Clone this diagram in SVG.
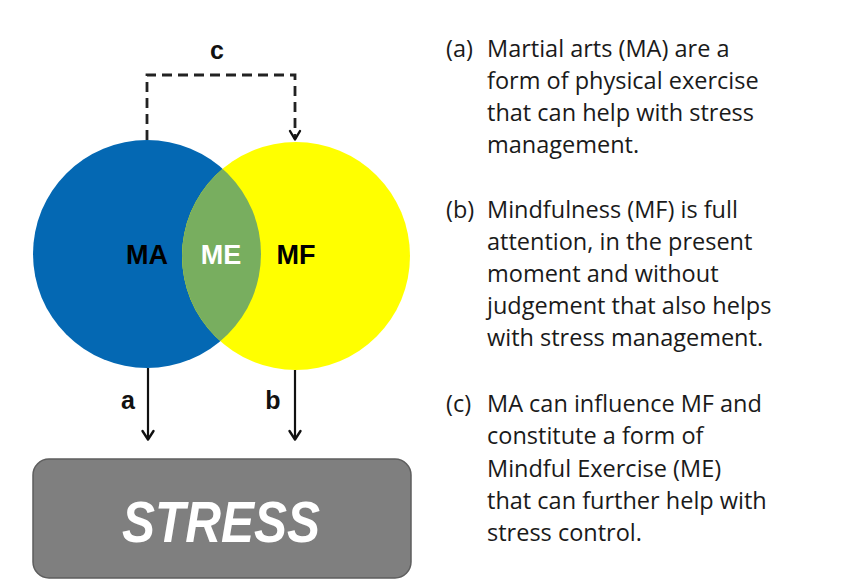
<svg xmlns="http://www.w3.org/2000/svg" width="844" height="585" viewBox="0 0 844 585">
<style>
.lbl{font-family:"Liberation Sans",Arial,sans-serif;font-weight:bold;font-size:27px;text-anchor:middle}
.small{font-family:"Liberation Sans",Arial,sans-serif;font-weight:bold;font-size:25px;text-anchor:middle;fill:#111}
.body{font-family:"Open Sans","Liberation Sans",sans-serif;font-size:23.5px;fill:#1a1a1a}
.solid{stroke:#111;stroke-width:2.2;fill:none}
.dash{stroke:#222;stroke-width:2.8;fill:none;stroke-dasharray:10 6}
.head{stroke:#111;stroke-width:2.4;fill:none;stroke-linecap:round;stroke-linejoin:round}
</style>
<defs>
<clipPath id="clipMA"><circle cx="147" cy="254" r="114"/></clipPath>
</defs>
<rect width="844" height="585" fill="#fff"/>
<g id="MA"><circle cx="147" cy="254" r="114" fill="#0468B3"/></g>
<g id="MF"><circle cx="296" cy="256" r="114" fill="#FFFF00"/></g>
<g id="ME"><circle cx="296" cy="256" r="114" fill="#78AE5F" clip-path="url(#clipMA)"/></g>
<g id="labels-circles">
<text class="lbl" x="147" y="264" fill="#000">MA</text>
<text class="lbl" x="221" y="264" fill="#fff">ME</text>
<text class="lbl" x="296" y="264" fill="#000">MF</text>
</g>
<g id="STRESS">
<rect x="33" y="459" width="378" height="119" rx="16" ry="16" fill="#7F7F7F" stroke="#5E5E5E" stroke-width="1.5"/>
<text x="221" y="542" font-family="'Liberation Sans',Arial,sans-serif" font-weight="bold" font-style="italic" font-size="57" fill="#fff" text-anchor="middle" textLength="198" lengthAdjust="spacingAndGlyphs">STRESS</text>
</g>
<g id="connectors">
<path class="dash" d="M147,140 V75 H295 V139"/>
<path class="head" d="M290,131 L295,139.5 L300,131"/>
<line class="solid" x1="148" y1="368" x2="148" y2="439"/>
<path class="head" d="M142.5,431 L148,439.5 L153.5,431"/>
<line class="solid" x1="295" y1="370" x2="295" y2="439"/>
<path class="head" d="M289.5,431 L295,439.5 L300.5,431"/>
<text class="small" x="217" y="59">c</text>
<text class="small" x="128" y="409">a</text>
<text class="small" x="273" y="409">b</text>
</g>
<g id="text-a">
<text class="body" x="446" y="57">(a)</text>
<text class="body" x="487" y="57">Martial arts (MA) are a</text>
<text class="body" x="487" y="89">form of physical exercise</text>
<text class="body" x="487" y="121">that can help with stress</text>
<text class="body" x="487" y="153">management.</text>
</g>
<g id="text-b">
<text class="body" x="446" y="218">(b)</text>
<text class="body" x="487" y="218">Mindfulness (MF) is full</text>
<text class="body" x="487" y="250">attention, in the present</text>
<text class="body" x="487" y="282">moment and without</text>
<text class="body" x="487" y="314">judgement that also helps</text>
<text class="body" x="487" y="346">with stress management.</text>
</g>
<g id="text-c">
<text class="body" x="446" y="412">(c)</text>
<text class="body" x="487" y="412">MA can influence MF and</text>
<text class="body" x="487" y="444">constitute a form of</text>
<text class="body" x="487" y="477">Mindful Exercise (ME)</text>
<text class="body" x="487" y="509">that can further help with</text>
<text class="body" x="487" y="541">stress control.</text>
</g>
</svg>
